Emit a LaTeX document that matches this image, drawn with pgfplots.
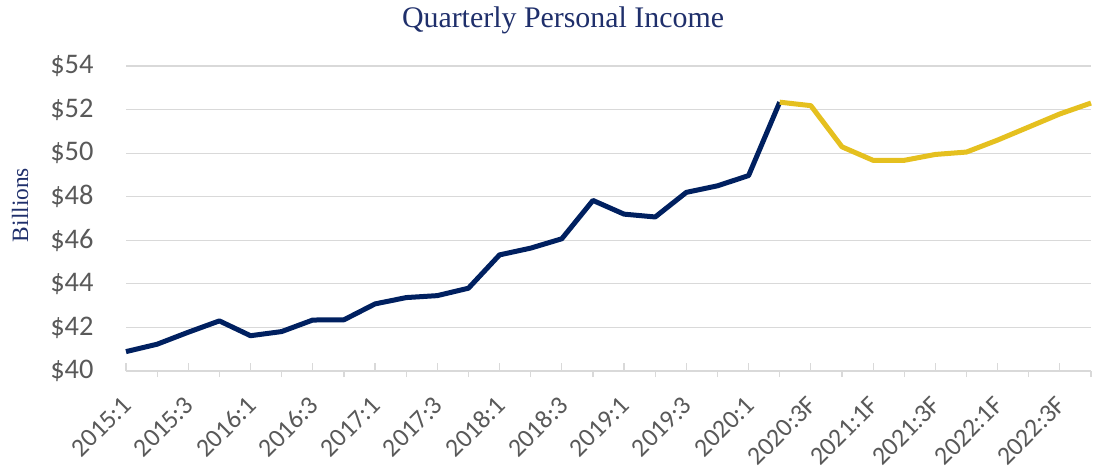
\documentclass[border=0pt]{standalone}
\usepackage{pgfplots}
\pgfplotsset{compat=1.18}
\usepackage{fontspec}
\setmainfont{Carlito}
\newfontfamily\titlefont{Liberation Serif}
\definecolor{navy}{HTML}{002060}
\definecolor{gold}{HTML}{E5C01F}
\definecolor{titlenavy}{HTML}{1F2F6B}
\definecolor{gridgrey}{HTML}{D9D9D9}
\definecolor{labgrey}{HTML}{595959}
\begin{document}
\begin{tikzpicture}[x=1bp,y=1bp]
\begin{axis}[
  at={(126bp,-371bp)}, anchor=south west,
  scale only axis, width=965bp, height=305bp,
  xmin=0, xmax=31, ymin=40, ymax=54,
  ytick={40,42,...,54},
  yticklabels={\$40,\$42,\$44,\$46,\$48,\$50,\$52,\$54},
  ymajorgrids, grid style={gridgrey, line width=1.2bp},
  axis x line*=bottom, axis y line*=left,
  x axis line style={gridgrey, line width=1.5bp},
  y axis line style={draw=none},
  xtick={0,2,...,30},
  xticklabels={2015:1,2015:3,2016:1,2016:3,2017:1,2017:3,2018:1,2018:3,2019:1,2019:3,2020:1,2020:3F,2021:1F,2021:3F,2022:1F,2022:3F},
  xtick align=inside, major tick length=8bp,
  x tick style={gridgrey, line width=1.2bp},
  extra x ticks={1,3,...,31}, extra x tick labels={},
  extra x tick style={xtick align=outside, major tick length=6bp},
  y tick style={draw=none},
  yticklabel style={font=\fontsize{28.5}{30}\selectfont, text=labgrey, anchor=east, xshift=-29bp},
  xticklabel style={font=\fontsize{26}{28}\selectfont, text=labgrey, xshift=-5bp, yshift=-19bp, rotate=45, anchor=north east},
  /pgf/number format/assume math mode=true,
  clip=false,
]
\addplot[navy, line width=5bp, line join=round] coordinates {
(0,40.89) (1,41.23) (2,41.78) (3,42.30) (4,41.62) (5,41.81) (6,42.34) (7,42.35)
(8,43.08) (9,43.37) (10,43.46) (11,43.80) (12,45.33) (13,45.64) (14,46.07) (15,47.83)
(16,47.20) (17,47.07) (18,48.20) (19,48.50) (20,48.97) (21,52.34)
};
\addplot[gold, line width=5bp, line join=round] coordinates {
(21,52.34) (22,52.18) (23,50.29) (24,49.67) (25,49.67) (26,49.94) (27,50.05)
(28,50.60) (29,51.20) (30,51.80) (31,52.30)
};
\end{axis}
\node[font=\titlefont\fontsize{30}{32}\selectfont, text=titlenavy] at (563bp,-20bp) {Quarterly Personal Income};
\node[font=\titlefont\fontsize{23.5}{25}\selectfont, text=titlenavy, rotate=90] at (20bp,-205bp) {Billions};
\pgfresetboundingbox
\path (0,0) rectangle (1094bp,-472bp);
\end{tikzpicture}
\end{document}
